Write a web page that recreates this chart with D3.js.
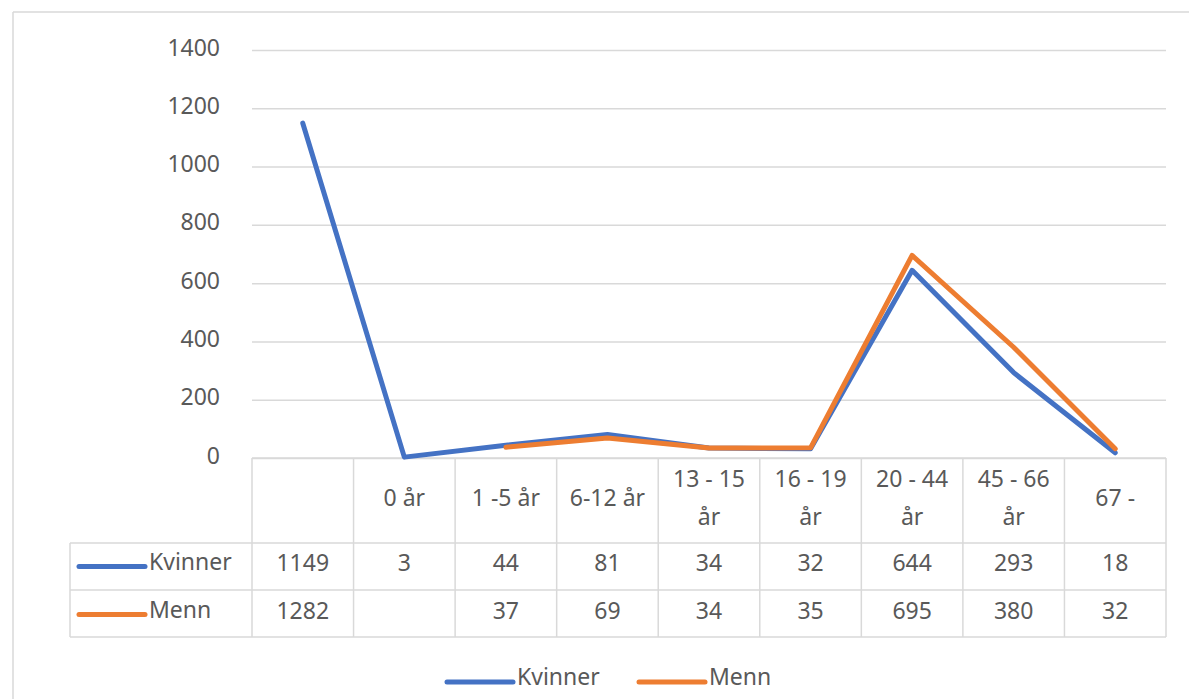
<!DOCTYPE html>
<html>
<head>
<meta charset="utf-8">
<script src="https://cdn.jsdelivr.net/npm/d3@7"></script>
<style>
  body { margin: 0; background: #fff; }
  svg text { font-family: "Noto Sans", "Open Sans", sans-serif; fill: #595959; }
</style>
</head>
<body>
<svg class="chart"></svg>
<script>
"use strict";

// data
var categories = ['', '0 år', '1 -5 år', '6-12 år', '13 - 15 år', '16 - 19 år', '20 - 44 år', '45 - 66 år', '67 -'];
var kvinner = [1149, 3, 44, 81, 34, 32, 644, 293, 18];
var menn = [1282, null, 37, 69, 34, 35, 695, 380, 32];
var seriesNames = ['Kvinner', 'Menn'];
var seriesColors = ['#4472c4', '#ed7d31'];
var yTicks = [0, 200, 400, 600, 800, 1000, 1200, 1400];

var W = 1189, H = 699;
var fontSize = 23;
var gridColor = '#d9d9d9';

var svg = d3.select('.chart')
  .attr('width', W)
  .attr('height', H);

// outer frame (only top and left visible in the crop)
svg.append('line')
  .attr('x1', 13).attr('x2', W).attr('y1', 12).attr('y2', 12)
  .style('stroke', gridColor).style('stroke-width', 1.5);
svg.append('line')
  .attr('x1', 13).attr('x2', 13).attr('y1', 12).attr('y2', H)
  .style('stroke', gridColor).style('stroke-width', 1.5);

var x = d3.scaleBand()
  .range([252, 1166])
  .domain(d3.range(categories.length));

var y = d3.scaleLinear()
  .range([458, 50])
  .domain([0, 1400]);

// gridlines + y labels
var yAxis = d3.axisLeft(y)
  .tickValues(yTicks)
  .tickFormat(d3.format('d'))
  .tickSize(-(x.range()[1] - x.range()[0]))
  .tickPadding(32);

var gy = svg.append('g')
  .attr('transform', 'translate(' + x.range()[0] + ',0)')
  .call(yAxis);
gy.select('.domain').remove();
gy.selectAll('.tick line').style('stroke', gridColor).style('stroke-width', 1.5);
gy.selectAll('.tick text')
  .style('font-size', fontSize + 'px')
  .attr('dy', '0.22em');

// data table
var rowTop = 458, rowHead = 543, row1 = 590, row2 = 637;
var tableLeft = 70;
var tbl = svg.append('g').style('stroke', gridColor).style('stroke-width', 1.5);

tbl.append('line').attr('x1', x.range()[0]).attr('x2', x.range()[1]).attr('y1', rowTop).attr('y2', rowTop);
[rowHead, row1, row2].forEach(function(yy){
  tbl.append('line').attr('x1', tableLeft).attr('x2', x.range()[1]).attr('y1', yy).attr('y2', yy);
});
tbl.append('line').attr('x1', tableLeft).attr('x2', tableLeft).attr('y1', rowHead).attr('y2', row2);
d3.range(categories.length + 1).forEach(function(i){
  var xx = x.range()[0] + i * x.bandwidth();
  tbl.append('line').attr('x1', xx).attr('x2', xx).attr('y1', rowTop).attr('y2', row2);
});

// header labels, wrapped into the cell width
var head = svg.append('g').selectAll('text')
  .data(categories)
  .enter().append('text')
    .attr('text-anchor', 'middle')
    .style('font-size', fontSize + 'px')
    .attr('x', function(d, i){ return x(i) + x.bandwidth() / 2; });

head.each(function(d, i){
  var t = d3.select(this);
  var words = d.split(' ');
  var lines = [], cur = '';
  words.forEach(function(w){
    var test = cur ? cur + ' ' + w : w;
    t.text(test);
    if (cur && this.getComputedTextLength() > x.bandwidth() - 6) {
      lines.push(cur);
      cur = w;
    } else {
      cur = test;
    }
  }, this);
  if (cur) lines.push(cur);
  t.text(null);
  var mid = (rowTop + rowHead) / 2 - 3;
  var lh = 38;
  lines.forEach(function(l, k){
    t.append('tspan')
      .attr('x', x(i) + x.bandwidth() / 2)
      .attr('y', mid + (k - (lines.length - 1) / 2) * lh)
      .attr('dy', '0.35em')
      .text(l);
  });
});

// series rows
var rows = [kvinner, menn];
var rowMid = [(rowHead + row1) / 2 - 4, (row1 + row2) / 2 - 3];
rows.forEach(function(vals, s){
  var g = svg.append('g');
  g.append('line')
    .attr('x1', 79).attr('x2', 145)
    .attr('y1', rowMid[s] + 4).attr('y2', rowMid[s] + 4)
    .style('stroke', seriesColors[s]).style('stroke-width', 5)
    .style('stroke-linecap', 'round');
  g.append('text')
    .attr('x', 149).attr('y', rowMid[s]).attr('dy', '0.33em')
    .style('font-size', fontSize + 'px')
    .text(seriesNames[s]);
  g.selectAll('.val')
    .data(vals)
    .enter().append('text')
      .attr('class', 'val')
      .attr('text-anchor', 'middle')
      .attr('x', function(d, i){ return x(i) + x.bandwidth() / 2; })
      .attr('y', rowMid[s]).attr('dy', '0.35em')
      .style('font-size', fontSize + 'px')
      .text(function(d){ return d == null ? '' : d; });
});

// lines (a point with no neighbour is not drawn, like Excel without markers)
function hasNeighbour(vals, i){
  return vals[i] != null && ((i > 0 && vals[i - 1] != null) || (i < vals.length - 1 && vals[i + 1] != null));
}

rows.forEach(function(vals, s){
  var line = d3.line()
    .defined(function(d, i){ return hasNeighbour(vals, i); })
    .x(function(d, i){ return x(i) + x.bandwidth() / 2; })
    .y(function(d){ return y(d); });

  svg.append('path')
    .datum(vals)
    .attr('d', line)
    .style('fill', 'none')
    .style('stroke', seriesColors[s])
    .style('stroke-width', 5)
    .style('stroke-linejoin', 'round')
    .style('stroke-linecap', 'round');
});

// legend
var legendX = [447, 639];
seriesNames.forEach(function(n, s){
  var g = svg.append('g').attr('transform', 'translate(' + legendX[s] + ',680)');
  g.append('line')
    .attr('x1', 0).attr('x2', 66).attr('y1', 2).attr('y2', 2)
    .style('stroke', seriesColors[s]).style('stroke-width', 5)
    .style('stroke-linecap', 'round');
  g.append('text')
    .attr('x', 70).attr('y', -3).attr('dy', '0.35em')
    .style('font-size', fontSize + 'px')
    .text(n);
});
</script>
</body>
</html>
